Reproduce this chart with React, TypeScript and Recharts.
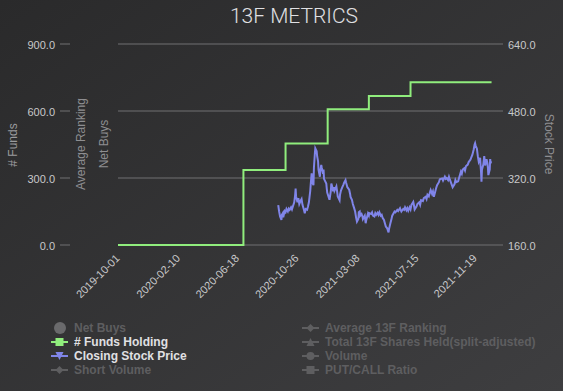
import { LineChart, Line, XAxis, YAxis, CartesianGrid } from "recharts";

// quarterly 13F filings
const fundDates = [
  "2019-09-30", "2019-12-31", "2020-03-31", "2020-06-30", "2020-09-30",
  "2020-12-31", "2021-03-31", "2021-06-30", "2021-09-30", "2021-12-24",
];
const fundsHolding = [0, 0, 0, 336, 455, 608, 667, 729, 729, 729];

// closing stock price
const priceDates = [
  "2020-09-14", "2020-09-16", "2020-09-18", "2020-09-21", "2020-09-22", "2020-09-24", "2020-09-25", "2020-09-28", "2020-09-30",
  "2020-10-02", "2020-10-05", "2020-10-07", "2020-10-09", "2020-10-12", "2020-10-14", "2020-10-16", "2020-10-19", "2020-10-21",
  "2020-10-22", "2020-10-23", "2020-10-26", "2020-10-28", "2020-10-30", "2020-11-02", "2020-11-04", "2020-11-06", "2020-11-09",
  "2020-11-11", "2020-11-13", "2020-11-16", "2020-11-18", "2020-11-20", "2020-11-23", "2020-11-24", "2020-11-26", "2020-11-27",
  "2020-11-30", "2020-12-01", "2020-12-03", "2020-12-04", "2020-12-07", "2020-12-08", "2020-12-10", "2020-12-11", "2020-12-14",
  "2020-12-15", "2020-12-17", "2020-12-18", "2020-12-21", "2020-12-22", "2020-12-23", "2020-12-28", "2020-12-29", "2020-12-30",
  "2021-01-04", "2021-01-05", "2021-01-07", "2021-01-08", "2021-01-11", "2021-01-12", "2021-01-14", "2021-01-15", "2021-01-19",
  "2021-01-21", "2021-01-22", "2021-01-26", "2021-01-27", "2021-01-29", "2021-02-01", "2021-02-03", "2021-02-05", "2021-02-08",
  "2021-02-09", "2021-02-11", "2021-02-12", "2021-02-16", "2021-02-18", "2021-02-19", "2021-02-22", "2021-02-24", "2021-02-26",
  "2021-03-01", "2021-03-03", "2021-03-05", "2021-03-08", "2021-03-09", "2021-03-11", "2021-03-12", "2021-03-15", "2021-03-17",
  "2021-03-18", "2021-03-22", "2021-03-24", "2021-03-25", "2021-03-29", "2021-03-31", "2021-04-01", "2021-04-05", "2021-04-07",
  "2021-04-09", "2021-04-12", "2021-04-14", "2021-04-16", "2021-04-19", "2021-04-21", "2021-04-23", "2021-04-26", "2021-04-28",
  "2021-04-30", "2021-05-03", "2021-05-05", "2021-05-07", "2021-05-10", "2021-05-12", "2021-05-13", "2021-05-14", "2021-05-17",
  "2021-05-19", "2021-05-21", "2021-05-24", "2021-05-26", "2021-05-28", "2021-06-01", "2021-06-03", "2021-06-07", "2021-06-08",
  "2021-06-10", "2021-06-14", "2021-06-16", "2021-06-18", "2021-06-21", "2021-06-23", "2021-06-25", "2021-06-28", "2021-06-30",
  "2021-07-02", "2021-07-06", "2021-07-08", "2021-07-09", "2021-07-13", "2021-07-15", "2021-07-19", "2021-07-21", "2021-07-23",
  "2021-07-27", "2021-07-29", "2021-08-02", "2021-08-04", "2021-08-06", "2021-08-09", "2021-08-11", "2021-08-13", "2021-08-16",
  "2021-08-18", "2021-08-20", "2021-08-23", "2021-08-25", "2021-08-27", "2021-08-31", "2021-09-02", "2021-09-07", "2021-09-09",
  "2021-09-13", "2021-09-15", "2021-09-17", "2021-09-20", "2021-09-22", "2021-09-24", "2021-09-28", "2021-09-30", "2021-10-04",
  "2021-10-06", "2021-10-08", "2021-10-12", "2021-10-14", "2021-10-18", "2021-10-20", "2021-10-22", "2021-10-25", "2021-10-27",
  "2021-10-29", "2021-11-02", "2021-11-04", "2021-11-08", "2021-11-10", "2021-11-12", "2021-11-15", "2021-11-17", "2021-11-18",
  "2021-11-19", "2021-11-22", "2021-11-24", "2021-11-26", "2021-11-29", "2021-11-30", "2021-12-01", "2021-12-02", "2021-12-03",
  "2021-12-06", "2021-12-08", "2021-12-09", "2021-12-10", "2021-12-13", "2021-12-14", "2021-12-15", "2021-12-16", "2021-12-17",
  "2021-12-20", "2021-12-21", "2021-12-22", "2021-12-23",
];
const closingPrices = [
  255, 240, 228, 220, 232, 236, 226, 241, 238,
  246, 240, 247, 244, 250, 245, 252, 262, 280,
  295, 276, 262, 272, 258, 266, 270, 256, 245,
  236, 246, 244, 252, 262, 290, 305, 331, 310,
  303, 345, 378, 391, 384, 372, 360, 340, 323,
  338, 351, 345, 330, 340, 318, 307, 295, 285,
  268, 275, 290, 307, 295, 288, 298, 290, 300,
  285, 276, 267, 280, 290, 298, 303, 309, 315,
  310, 302, 298, 292, 282, 275, 268, 258, 251,
  240, 226, 216, 222, 238, 240, 230, 234, 228,
  222, 230, 212, 218, 235, 230, 236, 234, 238,
  230, 228, 236, 232, 237, 232, 238, 230, 232,
  225, 220, 212, 204, 200, 193, 190, 198, 212,
  220, 230, 236, 240, 238, 244, 241, 248, 245,
  240, 246, 244, 250, 243, 248, 242, 250, 245,
  256, 263, 252, 245, 252, 258, 262, 256, 267,
  265, 272, 275, 270, 280, 276, 284, 291, 282,
  288, 275, 288, 296, 303, 310, 317, 319, 314,
  323, 318, 320, 315, 323, 316, 304, 298, 305,
  315, 310, 312, 320, 335, 330, 340, 343, 338,
  348, 352, 358, 364, 370, 375, 388, 400, 403,
  398, 390, 372, 359, 368, 350, 335, 311, 340,
  352, 372, 362, 350, 365, 360, 355, 345, 327,
  340, 365, 355, 360,
];

const xTickLabels = [
  "2019-10-01", "2020-02-10", "2020-06-18", "2020-10-26",
  "2021-03-08", "2021-07-15", "2021-11-19",
];
const fundsTicks = [0, 300, 600, 900];
const priceTicks = [160, 320, 480, 640];
const xStart = "2019-09-30";
const xEnd = "2022-01-18";

type LegendItem = { name: string; symbol: string; color?: string };
const legendLeft: LegendItem[] = [
  { name: "Net Buys", symbol: "bigCircle" },
  { name: "# Funds Holding", symbol: "square", color: "#90ed7d" },
  { name: "Closing Stock Price", symbol: "triangleDown", color: "#8085e9" },
  { name: "Short Volume", symbol: "diamond" },
];
const legendRight: LegendItem[] = [
  { name: "Average 13F Ranking", symbol: "diamond" },
  { name: "Total 13F Shares Held(split-adjusted)", symbol: "triangle" },
  { name: "Volume", symbol: "circle" },
  { name: "PUT/CALL Ratio", symbol: "square" },
];

const W = 563;
const H = 391;
const FONT = '"Liberation Sans", Arial, Helvetica, sans-serif';
const GRID = "#707073";
const TICK_TEXT = "#c8c8ca";
const HIDDEN = "#5e5e60";

type Row = { t: number; funds?: number; price?: number };

function buildRows(): Row[] {
  const map = new Map<number, Row>();
  fundDates.forEach((d, i) => {
    const t = Date.parse(d);
    map.set(t, { ...(map.get(t) || { t }), funds: fundsHolding[i] });
  });
  priceDates.forEach((d, i) => {
    const t = Date.parse(d);
    map.set(t, { ...(map.get(t) || { t }), price: closingPrices[i] });
  });
  return Array.from(map.values()).sort((a, b) => a.t - b.t);
}

const rows = buildRows();

function FundsTick(props: any) {
  const { y, payload } = props;
  return (
    <g>
      <line x1={60} x2={70} y1={y} y2={y} stroke={GRID} />
      <text x={55} y={y + 5} textAnchor="end" fontSize={11} fill={TICK_TEXT} fontFamily={FONT}>
        {Number(payload.value).toFixed(1)}
      </text>
    </g>
  );
}

function PriceTick(props: any) {
  const { x, y, payload } = props;
  return (
    <text x={x} y={y + 5} textAnchor="start" fontSize={11} fill={TICK_TEXT} fontFamily={FONT}>
      {Number(payload.value).toFixed(1)}
    </text>
  );
}

function DateTick(props: any) {
  const { x, y, payload } = props;
  const label = new Date(payload.value).toISOString().slice(0, 10);
  const px = x + 2;
  const py = y;
  return (
    <text
      x={px}
      y={py}
      transform={`rotate(-45 ${px} ${py})`}
      textAnchor="end"
      fontSize={11}
      fill={TICK_TEXT}
      fontFamily={FONT}
    >
      {label}
    </text>
  );
}

function Symbol({ kind, color }: { kind: string; color: string }) {
  return (
    <svg width={18} height={14} style={{ display: "block" }}>
      {kind !== "bigCircle" && <line x1={0} x2={17} y1={7} y2={7} stroke={color} strokeWidth={2} />}
      {kind === "bigCircle" && <circle cx={9} cy={7} r={6} fill={color} />}
      {kind === "circle" && <circle cx={8.5} cy={7} r={4} fill={color} />}
      {kind === "square" && <rect x={4.5} y={3} width={8} height={8} fill={color} />}
      {kind === "diamond" && <path d="M8.5 3 L12.5 7 L8.5 11 L4.5 7 Z" fill={color} />}
      {kind === "triangle" && <path d="M8.5 3 L12.5 11 L4.5 11 Z" fill={color} />}
      {kind === "triangleDown" && <path d="M4.5 3 L12.5 3 L8.5 11 Z" fill={color} />}
    </svg>
  );
}

function LegendColumn({ items, left }: { items: LegendItem[]; left: number }) {
  return (
    <div style={{ position: "absolute", left, top: 321 }}>
      {items.map((it) => (
        <div key={it.name} style={{ display: "flex", alignItems: "center", height: 14 }}>
          <Symbol kind={it.symbol} color={it.color || (it.symbol === "bigCircle" ? "#6a6a6c" : HIDDEN)} />
          <span
            style={{
              marginLeft: 5,
              fontFamily: FONT,
              fontWeight: "bold",
              fontSize: 12,
              color: it.color ? "#e0e0e3" : HIDDEN,
              whiteSpace: "nowrap",
            }}
          >
            {it.name}
          </span>
        </div>
      ))}
    </div>
  );
}

export default function App() {
  return (
    <div
      style={{
        position: "absolute",
        left: 0,
        top: 0,
        width: W,
        height: H,
        background: "linear-gradient(to bottom right, #2a2a2b, #3e3e40)",
        overflow: "hidden",
      }}
    >
      <LineChart width={W} height={H} data={rows} margin={{ top: 44, right: 0, bottom: 0, left: 0 }}>
        <CartesianGrid yAxisId="funds" horizontal vertical={false} stroke={GRID} />
        <XAxis
          dataKey="t"
          type="number"
          domain={[Date.parse(xStart), Date.parse(xEnd)]}
          ticks={xTickLabels.map((d) => Date.parse(d))}
          allowDataOverflow
          height={146}
          axisLine={false}
          tickLine={false}
          tickSize={0}
          tickMargin={14}
          tick={<DateTick />}
          interval={0}
        />
        <YAxis
          yAxisId="funds"
          orientation="left"
          width={118}
          domain={[0, 900]}
          ticks={fundsTicks}
          axisLine={false}
          tickLine={false}
          tick={<FundsTick />}
        />
        <YAxis
          yAxisId="price"
          orientation="right"
          width={60}
          domain={[160, 640]}
          ticks={priceTicks}
          axisLine={false}
          tickLine={false}
          tickSize={0}
          tickMargin={5}
          tick={<PriceTick />}
        />
        <Line
          yAxisId="funds"
          dataKey="funds"
          type="stepAfter"
          stroke="#90ed7d"
          strokeWidth={2}
          dot={false}
          activeDot={false}
          connectNulls
          isAnimationActive={false}
        />
        <Line
          yAxisId="price"
          dataKey="price"
          type="linear"
          stroke="#8085e9"
          strokeWidth={2}
          dot={false}
          activeDot={false}
          connectNulls
          isAnimationActive={false}
        />
      </LineChart>

      <svg width={W} height={H} style={{ position: "absolute", left: 0, top: 0, pointerEvents: "none" }}>
        <text x={294} y={23} textAnchor="middle" fontSize={21} fontWeight={300} fill="#e0e0e3" fontFamily='Roboto, "Liberation Sans", sans-serif'>
          13F METRICS
        </text>
        <text transform="translate(17 145) rotate(-90)" textAnchor="middle" fontSize={12} fill="#9a9a9d" fontFamily={FONT}>
          # Funds
        </text>
        <text transform="translate(85 144) rotate(-90)" textAnchor="middle" fontSize={12} fill="#8e8e91" fontFamily={FONT}>
          Average Ranking
        </text>
        <text transform="translate(108 144) rotate(-90)" textAnchor="middle" fontSize={12} fill="#8e8e91" fontFamily={FONT}>
          Net Buys
        </text>
        <text transform="translate(545 144) rotate(90)" textAnchor="middle" fontSize={12} fill="#8e8e91" fontFamily={FONT}>
          Stock Price
        </text>
      </svg>

      <LegendColumn items={legendLeft} left={51} />
      <LegendColumn items={legendRight} left={302} />
    </div>
  );
}
